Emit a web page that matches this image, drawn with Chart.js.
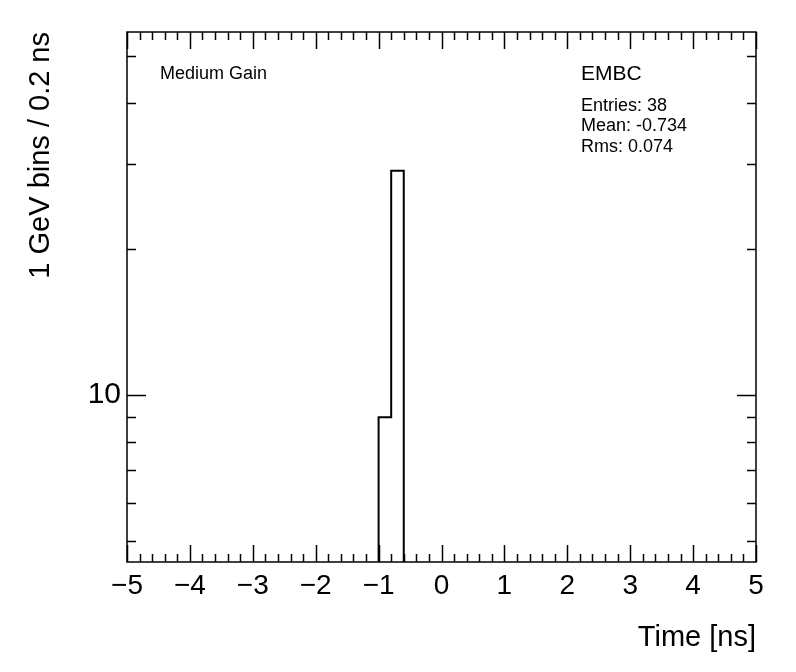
<!DOCTYPE html>
<html>
<head>
<meta charset="utf-8">
<script src="https://cdn.jsdelivr.net/npm/chart.js@4.4.1/dist/chart.umd.min.js"></script>
<style>
  html, body { margin: 0; padding: 0; background: #fff; }
  canvas { display: block; }
</style>
</head>
<body>
<canvas id="timeHist" width="796" height="672"></canvas>
<script>
// histogram: bin low edges (ns) and counts, 0.2 ns bins
const binLow = [-1.0, -0.8];
const binCounts = [9, 29];
const binWidth = 0.2;

// axis ticks
const xMajorTicks = [-5, -4, -3, -2, -1, 0, 1, 2, 3, 4, 5];
const yMajorTicks = [10];
const yMinorTicks = [5, 6, 7, 8, 9, 20, 30, 40, 50];

const yRange = [4.53, 56];
const labelText = "Medium Gain";
const statTitle = "EMBC";
const statLines = ["Entries: 38", "Mean: -0.734", "Rms: 0.074"];

const FONT = "'Liberation Sans', Arial, Helvetica, sans-serif";

// outline of the histogram, starting and ending on the lower frame edge
function histOutline() {
  const pts = [];
  for (let i = 0; i < binLow.length; i++) {
    const lo = binLow[i], hi = binLow[i] + binWidth;
    if (i === 0) pts.push({ x: lo, y: yRange[0] });
    pts.push({ x: lo, y: binCounts[i] });
    pts.push({ x: hi, y: binCounts[i] });
  }
  pts.push({ x: binLow[binLow.length - 1] + binWidth, y: yRange[0] });
  return pts;
}

function minus(v) {
  return v < 0 ? "\u2212" + Math.abs(v) : String(v);
}

// ROOT style frame with inward ticks on all four sides
const rootFrame = {
  id: "rootFrame",
  afterDraw(chart) {
    const { ctx, chartArea: a, scales } = chart;
    const xs = scales.x, ys = scales.y;
    ctx.save();
    ctx.strokeStyle = "#000";
    ctx.lineWidth = 1.5;
    ctx.strokeRect(a.left, a.top, a.right - a.left, a.bottom - a.top);

    ctx.beginPath();
    for (let v = -5; v <= 5.0001; v += binWidth) {
      const px = Math.round(xs.getPixelForValue(v)) + 0.5;
      const major = Math.abs(v - Math.round(v)) < 1e-6;
      const len = major ? 17 : 8;
      ctx.moveTo(px, a.bottom); ctx.lineTo(px, a.bottom - len);
      ctx.moveTo(px, a.top); ctx.lineTo(px, a.top + len);
    }
    yMajorTicks.concat(yMinorTicks).forEach(v => {
      const py = Math.round(ys.getPixelForValue(v)) + 0.5;
      const len = yMajorTicks.includes(v) ? 19 : 9;
      ctx.moveTo(a.left, py); ctx.lineTo(a.left + len, py);
      ctx.moveTo(a.right, py); ctx.lineTo(a.right - len, py);
    });
    ctx.stroke();

    ctx.fillStyle = "#000";
    ctx.textBaseline = "middle";
    ctx.textAlign = "left";
    ctx.font = "18px " + FONT;
    ctx.fillText(labelText, 160, 74);
    ctx.font = "21px " + FONT;
    ctx.fillText(statTitle, 581, 74);
    ctx.font = "18px " + FONT;
    statLines.forEach((t, i) => ctx.fillText(t, 581, 106 + i * 20.5));
    ctx.restore();
  }
};

new Chart(document.getElementById("timeHist"), {
  type: "line",
  data: {
    datasets: [{
      data: histOutline(),
      borderColor: "#000",
      borderWidth: 2,
      pointRadius: 0,
      fill: false,
      tension: 0
    }]
  },
  options: {
    responsive: false,
    animation: false,
    devicePixelRatio: 1,
    layout: { padding: { top: 32, right: 40, left: 0, bottom: 0 } },
    plugins: { legend: { display: false }, tooltip: { enabled: false } },
    scales: {
      x: {
        type: "linear",
        min: -5,
        max: 5,
        afterFit: s => { s.height = 110; },
        afterBuildTicks: s => { s.ticks = xMajorTicks.map(v => ({ value: v })); },
        grid: { display: false, drawTicks: false },
        border: { display: false },
        ticks: {
          autoSkip: false,
          maxRotation: 0,
          padding: 7,
          color: "#000",
          font: { family: FONT, size: 28 },
          callback: v => minus(v)
        },
        title: {
          display: true,
          text: "Time [ns]",
          align: "end",
          color: "#000",
          font: { family: FONT, size: 29 },
          padding: { top: 0, bottom: 17 }
        }
      },
      y: {
        type: "logarithmic",
        min: yRange[0],
        max: yRange[1],
        afterFit: s => { s.width = 127; },
        afterBuildTicks: s => { s.ticks = yMajorTicks.map(v => ({ value: v })); },
        grid: { display: false, drawTicks: false },
        border: { display: false },
        ticks: {
          padding: 6,
          color: "#000",
          font: { family: FONT, size: 30 },
          callback: v => String(v)
        },
        title: {
          display: true,
          text: "1 GeV bins / 0.2 ns",
          align: "end",
          color: "#000",
          font: { family: FONT, size: 29 },
          padding: { top: 24, bottom: 0 }
        }
      }
    }
  },
  plugins: [rootFrame]
});
</script>
</body>
</html>
